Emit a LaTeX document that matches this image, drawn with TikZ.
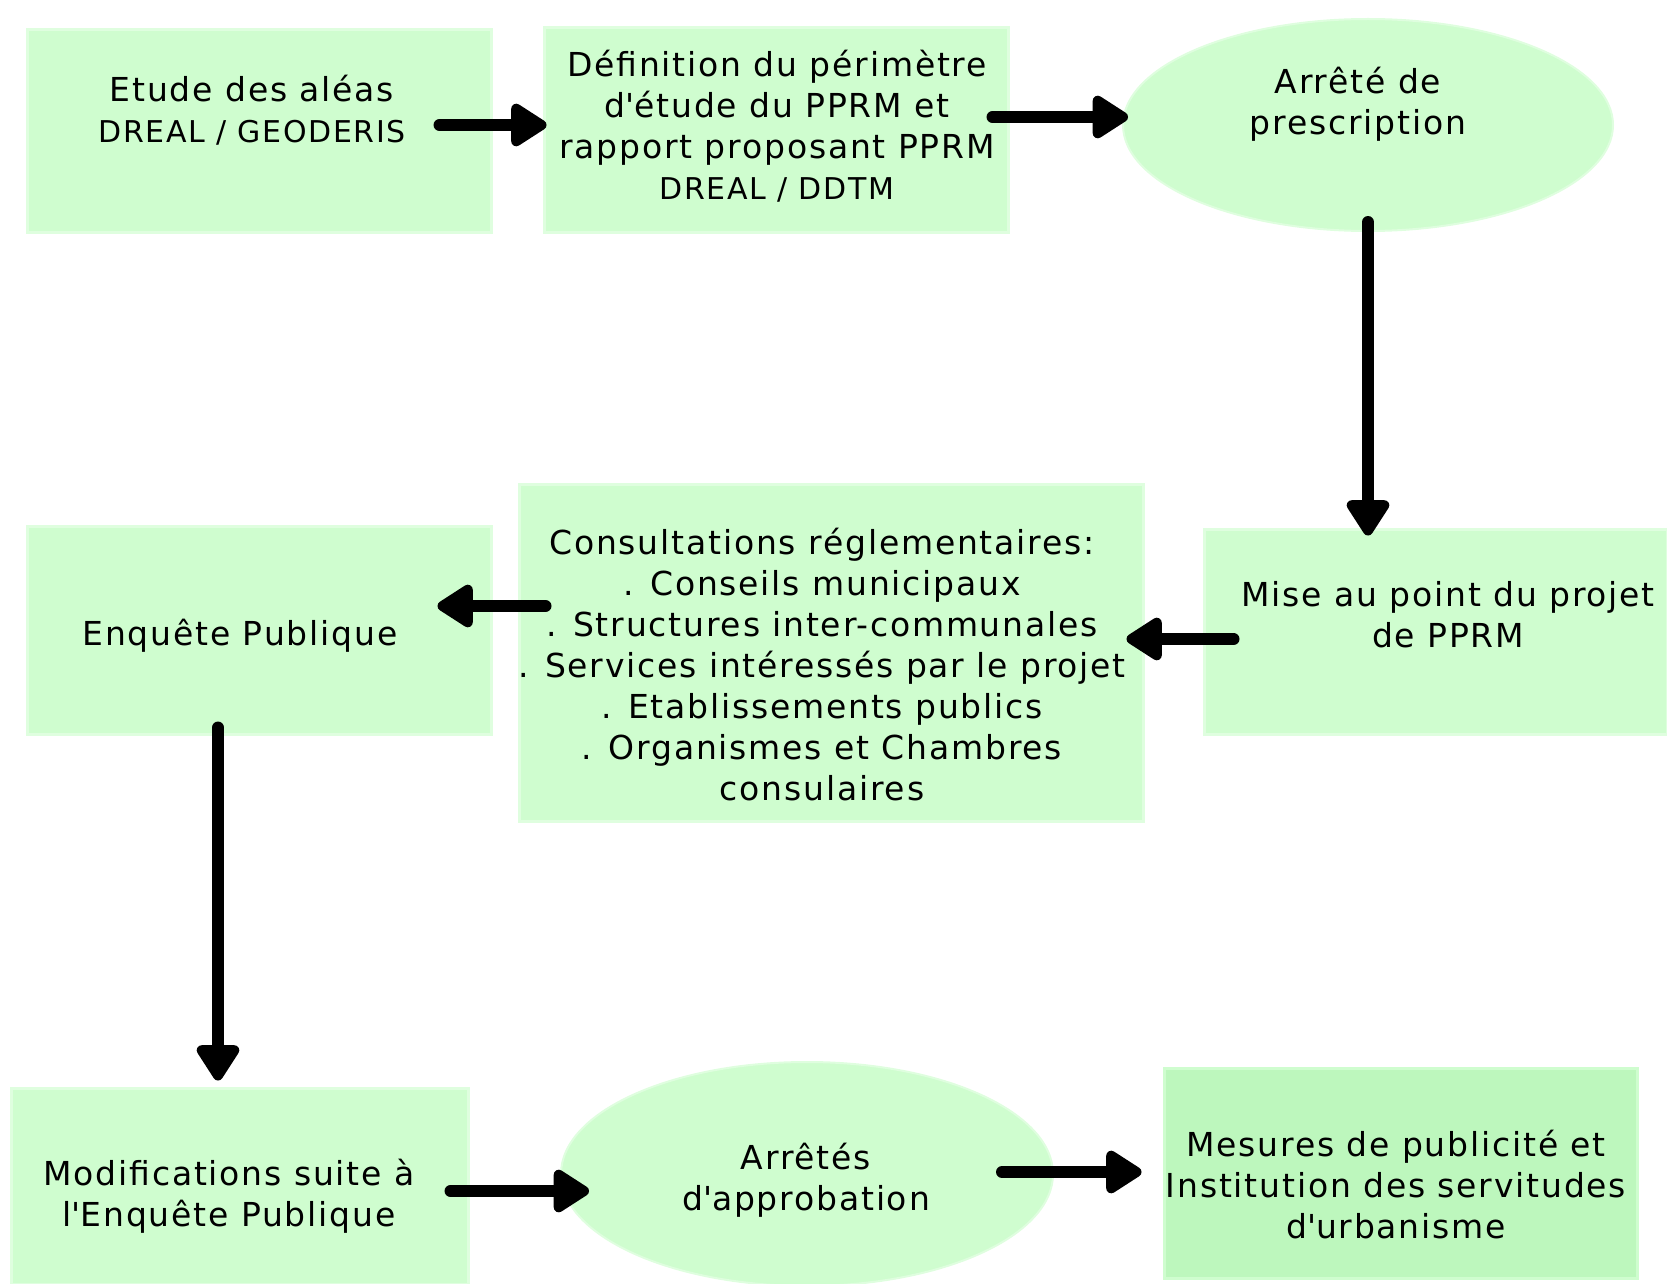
\documentclass[tikz,border=0pt]{standalone}
\usepackage{fontspec}
\setmainfont{DejaVu Sans}[LetterSpace=5.5]
\usetikzlibrary{arrows.meta,shapes.geometric}
\definecolor{boxgreen}{HTML}{CFFDCF}
\definecolor{boxgreendark}{HTML}{BDF7BD}
\definecolor{glow}{HTML}{DFFEDF}
\tikzset{
  stepbox/.style={rectangle,fill=boxgreen,draw=glow,line width=3pt,inner sep=0pt},
  stepoval/.style={ellipse,fill=boxgreen,draw=glow,line width=2pt,inner sep=0pt},
  txt/.style={align=center,inner sep=0pt,font=\fontsize{33}{41}\selectfont},
  arr/.style={line width=12pt,line cap=round,-{Triangle[length=40pt,width=48pt,round]}},
}
\newcommand{\smallcaps}{\fontsize{30}{41}\selectfont}
\newcommand{\apos}{\textquotesingle}
\begin{document}
\begin{tikzpicture}[x=1pt,y=-1pt]
\useasboundingbox (0,0) rectangle (1667,1284);
% shapes
\node[stepbox,minimum width=464pt,minimum height=202pt] (b1) at (259,131) {};
\node[stepbox,minimum width=464pt,minimum height=205pt] (b2) at (776,130) {};
\node[stepoval,minimum width=490pt,minimum height=212pt] (e1) at (1368,125) {};
\node[stepbox,minimum width=463pt,minimum height=205pt] (bmise) at (1435.5,631.5) {};
\node[stepbox,minimum width=624pt,minimum height=337pt] (bcons) at (831,652.5) {};
\node[stepbox,minimum width=464pt,minimum height=208pt] (benq) at (259,630) {};
\node[stepbox,minimum width=457pt,minimum height=196pt] (bmod) at (239.5,1186) {};
\node[stepoval,minimum width=492pt,minimum height=224pt] (e2) at (807,1174) {};
\node[stepbox,fill=boxgreendark,draw=boxgreen,minimum width=473pt,minimum height=210pt] (bmes) at (1400.5,1173) {};
% texts
\node[txt] (t1) at (252,110) {Etude des aléas\\{\smallcaps DREAL / GEODERIS}};
\node[txt] (t2) at (777,126.5) {Définition du périmètre\\d\apos étude du PPRM et\\rapport proposant PPRM\\{\smallcaps DREAL / DDTM}};
\node[txt] (t3) at (1358,104.5) {Arrêté de\\prescription};
\node[txt] (t4) at (1448,615) {Mise au point du projet\\de PPRM};
\node[txt] (t5) at (822,665) {Consultations réglementaires:\\. Conseils municipaux\\. Structures inter-communales\\. Services intéressés par le projet\\. Etablissements publics\\. Organismes et Chambres\\consulaires};
\node[txt] (t6) at (240,636) {Enquête Publique};
\node[txt] (t7) at (229,1196) {Modifications suite à\\l\apos Enquête Publique};
\node[txt] (t8) at (806,1180) {Arrêtés\\d\apos approbation};
\node[txt] (t9) at (1396,1185) {Mesures de publicité et\\Institution des servitudes\\d\apos urbanisme};
% arrows
\draw[arr] ([xshift=-53pt,yshift=6pt]b1.east) -- ([xshift=4pt,yshift=5pt]b2.west);
\draw[arr] ([xshift=-17pt,yshift=13pt]b2.east) -- ([xshift=6pt,yshift=8pt]e1.west);
\draw[arr] ([yshift=10pt]e1.south) -- ([xshift=-67.5pt,yshift=-8pt]bmise.north);
\draw[arr] ([xshift=31pt,yshift=-7.5pt]bmise.west) -- ([xshift=-18pt,yshift=13.5pt]bcons.east);
\draw[arr] ([xshift=28pt,yshift=46.5pt]bcons.west) -- ([xshift=-55pt,yshift=24pt]benq.east);
\draw[arr] ([xshift=-41pt,yshift=8pt]benq.south) -- ([xshift=-21.5pt,yshift=6pt]bmod.north);
\draw[arr] ([xshift=-19pt,yshift=-5pt]bmod.east) -- ([xshift=29pt,yshift=-17pt]e2.west);
\draw[arr] ([xshift=-52pt,yshift=2pt]e2.east) -- ([xshift=-21pt,yshift=1pt]bmes.west);
\end{tikzpicture}
\end{document}
